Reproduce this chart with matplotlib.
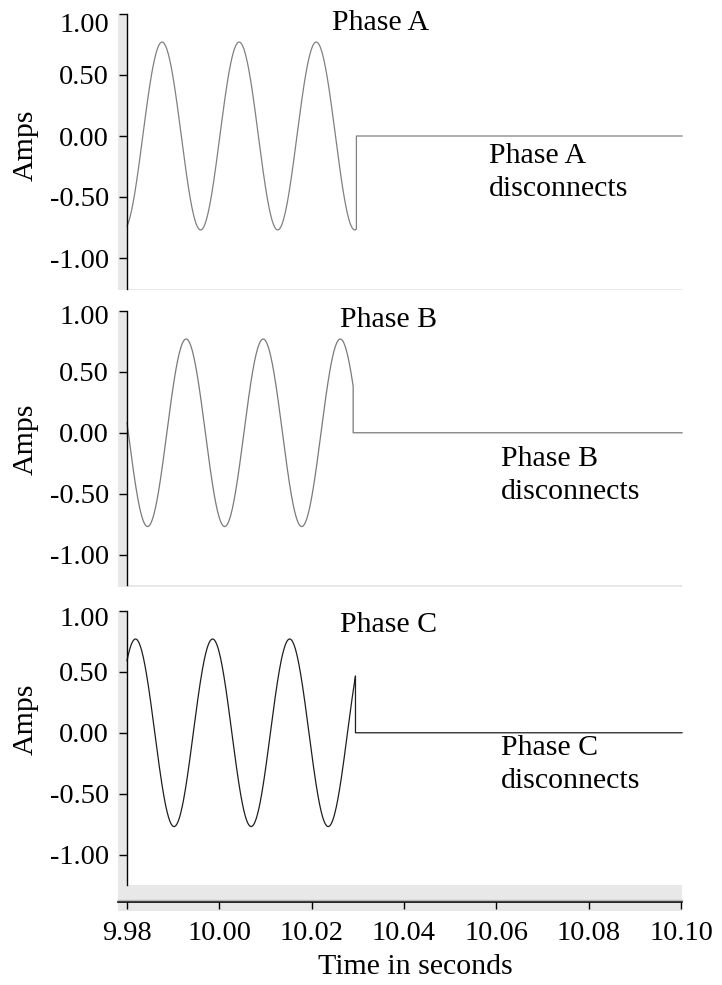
import numpy as np
import matplotlib.pyplot as plt
from matplotlib.patches import Rectangle
from matplotlib.lines import Line2D
from matplotlib.transforms import ScaledTranslation

plt.rcParams['font.family'] = ['Liberation Serif', 'DejaVu Serif']

# values
phases = ["Phase A", "Phase B", "Phase C"]
amplitude = [0.77, 0.77, 0.77]          # peak current, A
freq_hz = 60.0
peak_time = [9.98758, 9.99278, 9.98184]  # time of a positive peak, s
trip_time = [10.0296, 10.0289, 10.0294]  # instant each phase disconnects, s
after_trip = [0.0, 0.0, 0.0]             # current after disconnect
line_colors = ["#808080", "#7a7a7a", "#1e1e1e"]
t_start, t_end = 9.98, 10.10
y_ticks = [1.00, 0.50, 0.00, -0.50, -1.00]
x_ticks = [9.98, 10.00, 10.02, 10.04, 10.06, 10.08, 10.10]

W, H = 722, 985
FS = 20.5     # tick labels
FS_TXT = 21.5  # other text


def fx(px):
    return px / W


def fy(py):
    return 1 - py / H


fig = plt.figure(figsize=(W / 100, H / 100), dpi=100)

# panel geometry in pixels
tops = [14, 311, 611]
bottoms = [288.5, 585, 885]
gray_bottoms = [290.5, 587, 911]
label_pos = [(10.0244, 0.93), (10.0261, 0.93), (10.0261, 0.885)]
note_pos = [(10.0582, -0.30), (10.0608, -0.35), (10.0608, -0.26)]
top_label_shift = [9, 3, 6]
amps_y = [145, 439, 719]

for i in range(3):
    top, bot = tops[i], bottoms[i]
    fig.add_artist(Rectangle((fx(118), fy(gray_bottoms[i])), fx(682) - fx(118),
                             (gray_bottoms[i] - top) / H, transform=fig.transFigure,
                             facecolor="#e8e8e8", edgecolor="none", zorder=0))
    ax = fig.add_axes([fx(127), fy(bot), fx(682) - fx(127), (bot - top) / H])
    ax.set_facecolor("white")
    ax.set_xlim(t_start, t_end)
    ax.set_ylim(-1.25, 1.0)
    for s in ["top", "right", "bottom"]:
        ax.spines[s].set_visible(False)
    ax.spines["left"].set_linewidth(1.0)
    ax.set_xticks([])
    ax.set_yticks(y_ticks)
    ax.set_yticklabels(["%.2f" % v for v in y_ticks])
    ax.tick_params(axis="y", direction="out", length=6, width=1, pad=7, labelsize=FS)
    lab = ax.get_yticklabels()[0]
    lab.set_transform(lab.get_transform() +
                      ScaledTranslation(0, -top_label_shift[i] / 100, fig.dpi_scale_trans))

    t = np.linspace(t_start, trip_time[i], 800)
    y = amplitude[i] * np.cos(2 * np.pi * freq_hz * (t - peak_time[i]))
    tt = np.r_[t, trip_time[i], t_end]
    yy = np.r_[y, after_trip[i], after_trip[i]]
    ax.plot(tt, yy, color=line_colors[i], lw=0.9, clip_on=False)

    ax.text(label_pos[i][0], label_pos[i][1], phases[i], fontsize=FS_TXT,
            ha="left", va="center")
    ax.text(note_pos[i][0], note_pos[i][1], phases[i] + "\ndisconnects",
            fontsize=FS_TXT, ha="left", va="center", linespacing=1.35)
    fig.text(fx(26), fy(amps_y[i]), "Amps", fontsize=FS_TXT, rotation=90,
             ha="center", va="center")

# shared time axis under the last panel
scale = (t_end - t_start) / (681 - 127)
fig.add_artist(Line2D([fx(118), fx(682)], [fy(899.5), fy(899.5)],
                      transform=fig.transFigure, color="#b8b8b8", lw=1))
axx = fig.add_axes([fx(118), fy(902), fx(682) - fx(118), 0.0001])
axx.patch.set_visible(False)
for s in ["top", "right", "left"]:
    axx.spines[s].set_visible(False)
axx.spines["bottom"].set_linewidth(1.2)
axx.set_yticks([])
axx.set_xlim(t_start - (127 - 118) * scale, t_end + (682 - 681) * scale)
axx.set_xticks(x_ticks)
axx.set_xticklabels(["%.2f" % v for v in x_ticks])
axx.tick_params(axis="x", direction="out", length=5, width=1, pad=9, labelsize=FS)
fig.text(fx(415), fy(967), "Time in seconds", fontsize=FS_TXT, ha="center", va="center")

fig.savefig("out.png", dpi=100)
